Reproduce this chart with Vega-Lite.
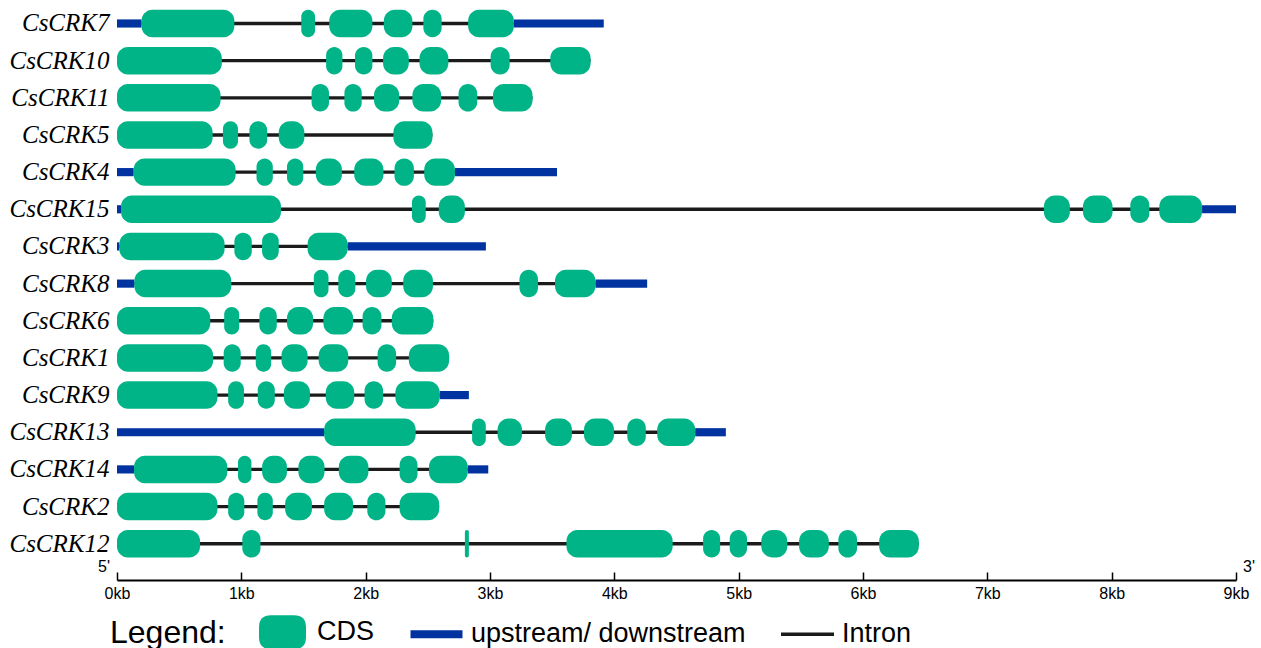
{
  "$schema": "https://vega.github.io/schema/vega-lite/v6.json",
  "description": "Exon-intron structure of the CsCRK genes (CDS, UTR and introns), positions in kb",
  "width": 1119,
  "height": 580,
  "autosize": "none",
  "padding": {"left": 117, "top": 0, "right": 25, "bottom": 68},
  "background": "white",
  "config": {"view": {"stroke": null}},
  "datasets": {
    "genes": [
      {"gene": "CsCRK7", "part": "upstream/ downstream", "start": 0, "end": 0.197},
      {"gene": "CsCRK7", "part": "upstream/ downstream", "start": 3.192, "end": 3.915},
      {"gene": "CsCRK7", "part": "Intron", "start": 0.197, "end": 3.192},
      {"gene": "CsCRK7", "part": "CDS", "start": 0.197, "end": 0.944},
      {"gene": "CsCRK7", "part": "CDS", "start": 1.482, "end": 1.593},
      {"gene": "CsCRK7", "part": "CDS", "start": 1.707, "end": 2.054},
      {"gene": "CsCRK7", "part": "CDS", "start": 2.146, "end": 2.376},
      {"gene": "CsCRK7", "part": "CDS", "start": 2.464, "end": 2.611},
      {"gene": "CsCRK7", "part": "CDS", "start": 2.824, "end": 3.192},

      {"gene": "CsCRK10", "part": "Intron", "start": 0, "end": 3.809},
      {"gene": "CsCRK10", "part": "CDS", "start": 0, "end": 0.843},
      {"gene": "CsCRK10", "part": "CDS", "start": 1.682, "end": 1.813},
      {"gene": "CsCRK10", "part": "CDS", "start": 1.914, "end": 2.054},
      {"gene": "CsCRK10", "part": "CDS", "start": 2.14, "end": 2.347},
      {"gene": "CsCRK10", "part": "CDS", "start": 2.433, "end": 2.665},
      {"gene": "CsCRK10", "part": "CDS", "start": 3.005, "end": 3.158},
      {"gene": "CsCRK10", "part": "CDS", "start": 3.485, "end": 3.809},

      {"gene": "CsCRK11", "part": "Intron", "start": 0, "end": 3.342},
      {"gene": "CsCRK11", "part": "CDS", "start": 0, "end": 0.833},
      {"gene": "CsCRK11", "part": "CDS", "start": 1.565, "end": 1.705},
      {"gene": "CsCRK11", "part": "CDS", "start": 1.829, "end": 1.968},
      {"gene": "CsCRK11", "part": "CDS", "start": 2.067, "end": 2.27},
      {"gene": "CsCRK11", "part": "CDS", "start": 2.376, "end": 2.607},
      {"gene": "CsCRK11", "part": "CDS", "start": 2.747, "end": 2.897},
      {"gene": "CsCRK11", "part": "CDS", "start": 3.024, "end": 3.342},

      {"gene": "CsCRK5", "part": "Intron", "start": 0, "end": 2.537},
      {"gene": "CsCRK5", "part": "CDS", "start": 0, "end": 0.769},
      {"gene": "CsCRK5", "part": "CDS", "start": 0.852, "end": 0.973},
      {"gene": "CsCRK5", "part": "CDS", "start": 1.065, "end": 1.208},
      {"gene": "CsCRK5", "part": "CDS", "start": 1.301, "end": 1.507},
      {"gene": "CsCRK5", "part": "CDS", "start": 2.223, "end": 2.537},

      {"gene": "CsCRK4", "part": "upstream/ downstream", "start": 0, "end": 0.134},
      {"gene": "CsCRK4", "part": "upstream/ downstream", "start": 2.718, "end": 3.539},
      {"gene": "CsCRK4", "part": "Intron", "start": 0.134, "end": 2.718},
      {"gene": "CsCRK4", "part": "CDS", "start": 0.134, "end": 0.954},
      {"gene": "CsCRK4", "part": "CDS", "start": 1.122, "end": 1.253},
      {"gene": "CsCRK4", "part": "CDS", "start": 1.367, "end": 1.498},
      {"gene": "CsCRK4", "part": "CDS", "start": 1.599, "end": 1.809},
      {"gene": "CsCRK4", "part": "CDS", "start": 1.908, "end": 2.143},
      {"gene": "CsCRK4", "part": "CDS", "start": 2.232, "end": 2.388},
      {"gene": "CsCRK4", "part": "CDS", "start": 2.471, "end": 2.718},

      {"gene": "CsCRK15", "part": "upstream/ downstream", "start": 0, "end": 0.032},
      {"gene": "CsCRK15", "part": "upstream/ downstream", "start": 8.727, "end": 9.0},
      {"gene": "CsCRK15", "part": "Intron", "start": 0.032, "end": 8.727},
      {"gene": "CsCRK15", "part": "CDS", "start": 0.032, "end": 1.319},
      {"gene": "CsCRK15", "part": "CDS", "start": 2.372, "end": 2.483},
      {"gene": "CsCRK15", "part": "CDS", "start": 2.588, "end": 2.798},
      {"gene": "CsCRK15", "part": "CDS", "start": 7.455, "end": 7.664},
      {"gene": "CsCRK15", "part": "CDS", "start": 7.769, "end": 8.007},
      {"gene": "CsCRK15", "part": "CDS", "start": 8.15, "end": 8.303},
      {"gene": "CsCRK15", "part": "CDS", "start": 8.383, "end": 8.727},

      {"gene": "CsCRK3", "part": "upstream/ downstream", "start": 0, "end": 0.019},
      {"gene": "CsCRK3", "part": "upstream/ downstream", "start": 1.854, "end": 2.967},
      {"gene": "CsCRK3", "part": "Intron", "start": 0.019, "end": 1.854},
      {"gene": "CsCRK3", "part": "CDS", "start": 0.019, "end": 0.865},
      {"gene": "CsCRK3", "part": "CDS", "start": 0.944, "end": 1.084},
      {"gene": "CsCRK3", "part": "CDS", "start": 1.167, "end": 1.301},
      {"gene": "CsCRK3", "part": "CDS", "start": 1.533, "end": 1.854},

      {"gene": "CsCRK8", "part": "upstream/ downstream", "start": 0, "end": 0.14},
      {"gene": "CsCRK8", "part": "upstream/ downstream", "start": 3.848, "end": 4.264},
      {"gene": "CsCRK8", "part": "Intron", "start": 0.14, "end": 3.848},
      {"gene": "CsCRK8", "part": "CDS", "start": 0.14, "end": 0.919},
      {"gene": "CsCRK8", "part": "CDS", "start": 1.583, "end": 1.701},
      {"gene": "CsCRK8", "part": "CDS", "start": 1.78, "end": 1.917},
      {"gene": "CsCRK8", "part": "CDS", "start": 2.003, "end": 2.21},
      {"gene": "CsCRK8", "part": "CDS", "start": 2.302, "end": 2.541},
      {"gene": "CsCRK8", "part": "CDS", "start": 3.237, "end": 3.386},
      {"gene": "CsCRK8", "part": "CDS", "start": 3.523, "end": 3.848},

      {"gene": "CsCRK6", "part": "Intron", "start": 0, "end": 2.544},
      {"gene": "CsCRK6", "part": "CDS", "start": 0, "end": 0.75},
      {"gene": "CsCRK6", "part": "CDS", "start": 0.862, "end": 0.983},
      {"gene": "CsCRK6", "part": "CDS", "start": 1.145, "end": 1.285},
      {"gene": "CsCRK6", "part": "CDS", "start": 1.367, "end": 1.577},
      {"gene": "CsCRK6", "part": "CDS", "start": 1.66, "end": 1.899},
      {"gene": "CsCRK6", "part": "CDS", "start": 1.975, "end": 2.127},
      {"gene": "CsCRK6", "part": "CDS", "start": 2.21, "end": 2.544},

      {"gene": "CsCRK1", "part": "Intron", "start": 0, "end": 2.671},
      {"gene": "CsCRK1", "part": "CDS", "start": 0, "end": 0.773},
      {"gene": "CsCRK1", "part": "CDS", "start": 0.858, "end": 0.995},
      {"gene": "CsCRK1", "part": "CDS", "start": 1.116, "end": 1.24},
      {"gene": "CsCRK1", "part": "CDS", "start": 1.323, "end": 1.533},
      {"gene": "CsCRK1", "part": "CDS", "start": 1.622, "end": 1.86},
      {"gene": "CsCRK1", "part": "CDS", "start": 2.096, "end": 2.245},
      {"gene": "CsCRK1", "part": "CDS", "start": 2.347, "end": 2.671},

      {"gene": "CsCRK9", "part": "upstream/ downstream", "start": 2.595, "end": 2.83},
      {"gene": "CsCRK9", "part": "Intron", "start": 0, "end": 2.595},
      {"gene": "CsCRK9", "part": "CDS", "start": 0, "end": 0.808},
      {"gene": "CsCRK9", "part": "CDS", "start": 0.894, "end": 1.021},
      {"gene": "CsCRK9", "part": "CDS", "start": 1.132, "end": 1.269},
      {"gene": "CsCRK9", "part": "CDS", "start": 1.342, "end": 1.552},
      {"gene": "CsCRK9", "part": "CDS", "start": 1.679, "end": 1.908},
      {"gene": "CsCRK9", "part": "CDS", "start": 1.991, "end": 2.14},
      {"gene": "CsCRK9", "part": "CDS", "start": 2.239, "end": 2.595},

      {"gene": "CsCRK13", "part": "upstream/ downstream", "start": 0, "end": 1.666},
      {"gene": "CsCRK13", "part": "upstream/ downstream", "start": 4.65, "end": 4.897},
      {"gene": "CsCRK13", "part": "Intron", "start": 1.666, "end": 4.65},
      {"gene": "CsCRK13", "part": "CDS", "start": 1.666, "end": 2.402},
      {"gene": "CsCRK13", "part": "CDS", "start": 2.856, "end": 2.966},
      {"gene": "CsCRK13", "part": "CDS", "start": 3.061, "end": 3.257},
      {"gene": "CsCRK13", "part": "CDS", "start": 3.443, "end": 3.659},
      {"gene": "CsCRK13", "part": "CDS", "start": 3.756, "end": 3.997},
      {"gene": "CsCRK13", "part": "CDS", "start": 4.104, "end": 4.253},
      {"gene": "CsCRK13", "part": "CDS", "start": 4.345, "end": 4.65},

      {"gene": "CsCRK14", "part": "upstream/ downstream", "start": 0, "end": 0.137},
      {"gene": "CsCRK14", "part": "upstream/ downstream", "start": 2.821, "end": 2.986},
      {"gene": "CsCRK14", "part": "Intron", "start": 0.137, "end": 2.821},
      {"gene": "CsCRK14", "part": "CDS", "start": 0.137, "end": 0.887},
      {"gene": "CsCRK14", "part": "CDS", "start": 0.973, "end": 1.081},
      {"gene": "CsCRK14", "part": "CDS", "start": 1.167, "end": 1.367},
      {"gene": "CsCRK14", "part": "CDS", "start": 1.459, "end": 1.669},
      {"gene": "CsCRK14", "part": "CDS", "start": 1.784, "end": 2.022},
      {"gene": "CsCRK14", "part": "CDS", "start": 2.273, "end": 2.417},
      {"gene": "CsCRK14", "part": "CDS", "start": 2.509, "end": 2.821},

      {"gene": "CsCRK2", "part": "Intron", "start": 0, "end": 2.591},
      {"gene": "CsCRK2", "part": "CDS", "start": 0, "end": 0.808},
      {"gene": "CsCRK2", "part": "CDS", "start": 0.894, "end": 1.024},
      {"gene": "CsCRK2", "part": "CDS", "start": 1.129, "end": 1.253},
      {"gene": "CsCRK2", "part": "CDS", "start": 1.352, "end": 1.568},
      {"gene": "CsCRK2", "part": "CDS", "start": 1.666, "end": 1.899},
      {"gene": "CsCRK2", "part": "CDS", "start": 2.013, "end": 2.159},
      {"gene": "CsCRK2", "part": "CDS", "start": 2.273, "end": 2.591},

      {"gene": "CsCRK12", "part": "Intron", "start": 0, "end": 6.449},
      {"gene": "CsCRK12", "part": "CDS", "start": 0, "end": 0.668},
      {"gene": "CsCRK12", "part": "CDS", "start": 1.008, "end": 1.154},
      {"gene": "CsCRK12", "part": "CDS", "start": 2.798, "end": 2.83},
      {"gene": "CsCRK12", "part": "CDS", "start": 3.615, "end": 4.469},
      {"gene": "CsCRK12", "part": "CDS", "start": 4.714, "end": 4.851},
      {"gene": "CsCRK12", "part": "CDS", "start": 4.928, "end": 5.067},
      {"gene": "CsCRK12", "part": "CDS", "start": 5.182, "end": 5.391},
      {"gene": "CsCRK12", "part": "CDS", "start": 5.486, "end": 5.725},
      {"gene": "CsCRK12", "part": "CDS", "start": 5.802, "end": 5.952},
      {"gene": "CsCRK12", "part": "CDS", "start": 6.13, "end": 6.449}
    ]
  },
  "data": {"name": "genes"},
  "encoding": {
    "y": {
      "field": "gene",
      "type": "nominal",
      "scale": {
        "domain": ["CsCRK7", "CsCRK10", "CsCRK11", "CsCRK5", "CsCRK4", "CsCRK15", "CsCRK3", "CsCRK8", "CsCRK6", "CsCRK1", "CsCRK9", "CsCRK13", "CsCRK14", "CsCRK2", "CsCRK12"],
        "paddingInner": 0,
        "paddingOuter": 0.304,
        "align": 0.217
      },
      "axis": {
        "title": null,
        "domain": false,
        "ticks": false,
        "labelPadding": 8,
        "labelFont": "Liberation Serif",
        "labelFontStyle": "italic",
        "labelFontSize": 25,
        "labelColor": "black",
        "labelLimit": 300
      }
    }
  },
  "layer": [
    {
      "transform": [{"filter": "datum.part == 'Intron'"}],
      "mark": {"type": "bar", "height": {"band": 0.09}, "color": "#1c1a1a"},
      "encoding": {
        "x": {
          "field": "start",
          "type": "quantitative",
          "scale": {"domain": [0, 9], "nice": false, "zero": false},
          "axis": {
            "title": null,
            "values": [0, 1, 2, 3, 4, 5, 6, 7, 8, 9],
            "labelExpr": "datum.value + 'kb'",
            "grid": false,
            "domainColor": "black",
            "domainWidth": 2,
            "tickColor": "black",
            "tickWidth": 1.5,
            "tickSize": -8,
            "labelPadding": 13,
            "labelFont": "Liberation Sans Narrow, Liberation Sans",
            "labelFontSize": 16,
            "labelColor": "black",
            "labelFlush": false,
            "labelOverlap": false
          }
        },
        "x2": {"field": "end"}
      }
    },
    {
      "transform": [{"filter": "datum.part == 'upstream/ downstream'"}],
      "mark": {"type": "bar", "height": {"band": 0.22}, "color": "#0033a0"},
      "encoding": {
        "x": {"field": "start", "type": "quantitative"},
        "x2": {"field": "end"}
      }
    },
    {
      "transform": [{"filter": "datum.part == 'CDS'"}],
      "mark": {"type": "bar", "height": {"band": 0.74}, "color": "#00b487", "cornerRadius": 11},
      "encoding": {
        "x": {"field": "start", "type": "quantitative"},
        "x2": {"field": "end"}
      }
    },
    {
      "transform": [{"filter": "datum.part == 'none'"}],
      "mark": {"type": "point", "filled": true, "opacity": 1},
      "encoding": {
        "x": {"field": "start", "type": "quantitative"},
        "color": {
          "field": "part",
          "type": "nominal",
          "scale": {
            "domain": ["CDS", "upstream/ downstream", "Intron"],
            "range": ["#00b487", "#0033a0", "#1c1a1a"]
          },
          "legend": {
            "title": "Legend:",
            "orient": "none",
            "legendX": -7,
            "legendY": 605.5,
            "direction": "horizontal",
            "padding": 0,
            "titleOrient": "left",
            "titleAnchor": "middle",
            "titleBaseline": "line-top",
            "titleLineHeight": 11,
            "titlePadding": 30,
            "titleFont": "Liberation Sans",
            "titleFontSize": 32,
            "titleFontWeight": "normal",
            "titleColor": "black",
            "titleLimit": 400,
            "labelFont": "Liberation Sans",
            "labelFontSize": 27,
            "labelColor": "black",
            "labelLimit": 400,
            "labelOffset": 8,
            "columnPadding": 35,
            "symbolSize": 2809,
            "symbolStrokeWidth": 0,
            "symbolOpacity": 1
          }
        },
        "shape": {
          "field": "part",
          "type": "nominal",
          "scale": {
            "domain": ["CDS", "upstream/ downstream", "Intron"],
            "range": [
              "M-0.434,-0.642H0.434Q0.887,-0.642 0.887,-0.189V0.189Q0.887,0.642 0.434,0.642H-0.434Q-0.887,0.642 -0.887,0.189V-0.189Q-0.887,-0.642 -0.434,-0.642Z",
              "M-0.981,-0.151H0.981V0.151H-0.981Z",
              "M-1,-0.066H1V0.066H-1Z"
            ]
          },
          "legend": {"title": "Legend:"}
        }
      }
    },
    {
      "data": {"values": [{"end_label": "5'", "kb": 0}]},
      "mark": {"type": "text", "align": "right", "baseline": "alphabetic", "dx": -7, "dy": -8, "font": "Liberation Sans Narrow, Liberation Sans", "fontSize": 16, "color": "black"},
      "encoding": {
        "x": {"field": "kb", "type": "quantitative"},
        "y": {"value": "height"},
        "text": {"field": "end_label"}
      }
    },
    {
      "data": {"values": [{"end_label": "3'", "kb": 9}]},
      "mark": {"type": "text", "align": "left", "baseline": "alphabetic", "dx": 7, "dy": -8, "font": "Liberation Sans Narrow, Liberation Sans", "fontSize": 16, "color": "black"},
      "encoding": {
        "x": {"field": "kb", "type": "quantitative"},
        "y": {"value": "height"},
        "text": {"field": "end_label"}
      }
    }
  ]
}
